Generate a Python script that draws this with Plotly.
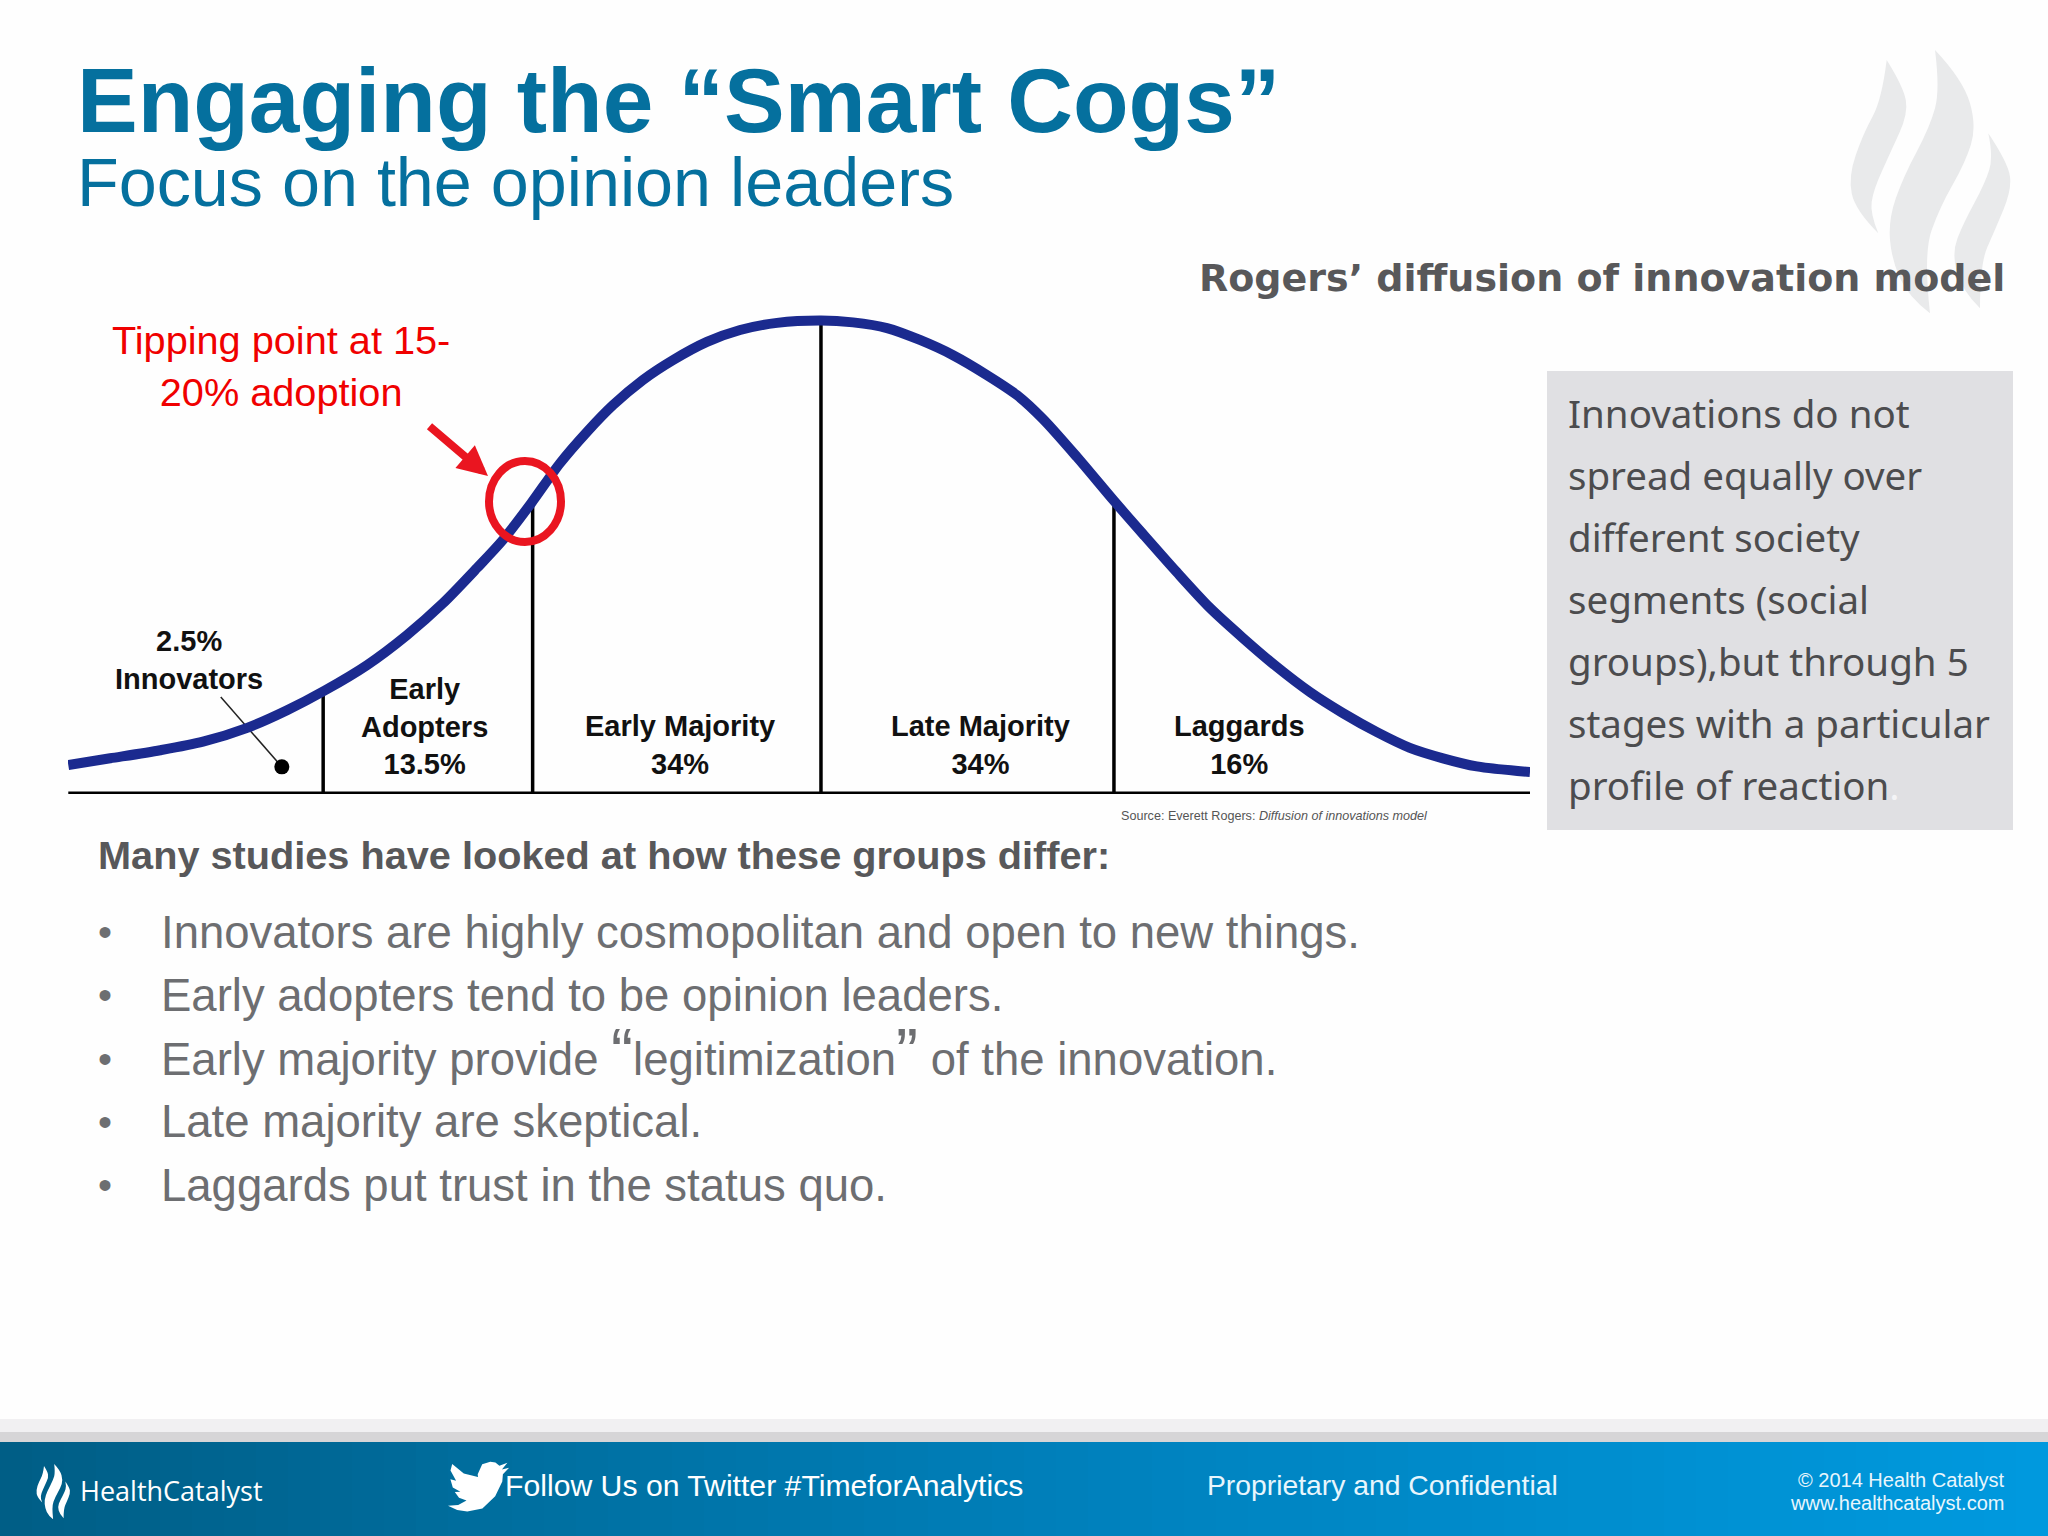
import plotly.graph_objects as go

# bell curve: x in std deviations, y in % of peak height
curve_x = [-2.594, -2.45, -2.278, -2.131, -1.979, -1.842, -1.711, -1.567, -1.43, -1.306, -1.189,
           -1.10, -1.003, -0.904, -0.811, -0.722, -0.619, -0.515, -0.399, -0.285, -0.158, -0.007,
           0.103, 0.22, 0.333, 0.447, 0.564, 0.667, 0.756, 0.873, 1.0, 1.10, 1.216, 1.33, 1.443,
           1.56, 1.674, 1.787, 1.904, 2.017, 2.131, 2.247, 2.43]
curve_y = [6.1, 7.5, 9.2, 11.0, 13.9, 17.6, 21.8, 27.1, 33.4, 40.1, 47.5,
           53.4, 61.1, 69.5, 76.1, 81.7, 87.0, 91.2, 95.0, 97.5, 99.0, 99.5,
           99.1, 97.9, 95.4, 92.2, 88.0, 83.8, 78.8, 70.8, 61.6, 54.6, 46.6, 39.1, 32.8,
           26.7, 21.4, 17.0, 13.0, 9.7, 7.5, 5.8, 4.6]

divider_x = [-1.718, -0.998, -0.007, 1.0]
divider_top = [21.8, 61.1, 99.5, 61.6]

segment_labels = ['2.5%<br>Innovators', 'Early<br>Adopters<br>13.5%', 'Early Majority<br>34%',
                  'Late Majority<br>34%', 'Laggards<br>16%']
segment_x = [-2.18, -1.37, -0.49, 0.54, 1.43]
segment_y = [28.2, 14.1, 10.2, 10.2, 10.2]

innovator_leader_x = [-2.07, -1.86]
innovator_leader_y = [20.4, 5.7]

bullets = ['Innovators are highly cosmopolitan and open to new things.',
           'Early adopters tend to be opinion leaders.',
           'Early majority provide <span style="font-size:66px">“</span>legitimization'
           '<span style="font-size:66px">”</span> of the innovation.',
           'Late majority are skeptical.',
           'Laggards put trust in the status quo.']
box_lines = ['Innovations do not', 'spread equally over', 'different society', 'segments (social',
             'groups),but through 5', 'stages with a particular',
             'profile of reaction<span style="color:#f4f4f6">.</span>']

# logo outlines, right side then left side of each flame, in watermark pixels
flames = [
    ([(320, 120), (370, 200), (385, 280), (330, 400), (280, 510), (270, 580), (295, 640)],
     [(295, 640), (225, 570), (205, 470), (250, 340), (305, 240), (320, 120)]),
    ([(465, 90), (550, 180), (590, 320), (555, 430), (480, 560), (430, 700), (450, 880)],
     [(450, 880), (385, 830), (335, 720), (325, 600), (370, 470), (450, 320), (480, 210), (465, 90)]),
    ([(625, 340), (685, 430), (695, 510), (645, 630), (600, 730), (600, 865)],
     [(600, 865), (545, 810), (515, 700), (550, 610), (615, 490), (640, 410), (625, 340)]),
]
bird = [(23.95, 4.57), (21.13, 5.34), (23.29, 2.62), (20.17, 3.81), (18.6, 2.5), (16.58, 2.25),
        (13.4, 3.2), (11.66, 7.17), (11.78, 8.29), (6.2, 6.9), (1.64, 3.16), (0.97, 5.64),
        (3.16, 9.73), (0.93, 9.11), (1.9, 12.4), (4.88, 14.0), (2.67, 14.08), (4.3, 16.4), (7.27, 17.5),
        (4.0, 19.2), (0, 19.54), (3.6, 21.2), (7.56, 21.75), (13.5, 20.6), (18.5, 15.8),
        (21.3, 10.0), (21.54, 7.13)]

SLIDE_W, SLIDE_H = 2048, 1536
BLUE = '#05709e'
GREY = '#58585a'
RED = '#ea1520'


def side_path(pts, fx, fy, first=False):
    # quadratic segments through the midpoints, ends stay sharp
    out = ''
    if first:
        out = 'M%.1f,%.1f ' % (fx(pts[0][0]), fy(pts[0][1]))
    for i in range(1, len(pts) - 1):
        if i < len(pts) - 2:
            ex = (pts[i][0] + pts[i + 1][0]) / 2
            ey = (pts[i][1] + pts[i + 1][1]) / 2
        else:
            ex, ey = pts[i + 1]
        out += 'Q%.1f,%.1f %.1f,%.1f ' % (fx(pts[i][0]), fy(pts[i][1]), fx(ex), fy(ey))
    return out


def flame_shapes(ox, oy, scale, color, layer):
    res = []
    fx = lambda v: ox + v * scale
    fy = lambda v: oy + v * scale
    for right, left in flames:
        path = side_path(right, fx, fy, first=True) + side_path(left, fx, fy) + 'Z'
        res.append(dict(type='path', path=path, fillcolor=color, line_width=0, layer=layer,
                        xref='x2', yref='y2'))
    return res


def page_text(text, x, y, size, color, anchor='left', family='Liberation Sans', **kw):
    return dict(text=text, x=x, y=y, xref='x2', yref='y2', showarrow=False, xanchor=anchor,
                yanchor='middle', align=anchor,
                font=dict(size=size, color=color, family=family), **kw)


def mix(c1, c2, t):
    return 'rgb(%d,%d,%d)' % tuple(round(a + (b - a) * t) for a, b in zip(c1, c2))


shapes = []
shapes += flame_shapes(1780, 20, 1 / 3, '#e9eaeb', 'below')

# footer: grey strips and the blue gradient
shapes.append(dict(type='rect', x0=0, x1=SLIDE_W, y0=1419, y1=1432, fillcolor='#f1f0f2',
                   line_width=0, layer='below', xref='x2', yref='y2'))
shapes.append(dict(type='rect', x0=0, x1=SLIDE_W, y0=1432, y1=1442, fillcolor='#d6d5d7',
                   line_width=0, layer='below', xref='x2', yref='y2'))
steps = 64
for i in range(steps):
    x0 = SLIDE_W * i / steps
    x1 = SLIDE_W * (i + 1) / steps + 2
    t = i / (steps - 1)
    if t < 0.55:
        col = mix((0, 94, 134), (0, 130, 190), t / 0.55)
    else:
        col = mix((0, 130, 190), (0, 153, 222), (t - 0.55) / 0.45)
    shapes.append(dict(type='rect', x0=x0, x1=x1, y0=1442, y1=SLIDE_H, fillcolor=col,
                       line_width=0, layer='below', xref='x2', yref='y2'))

shapes += flame_shapes(21.6, 1457.7, 0.07, 'white', 'above')

# twitter bird
bx = lambda v: 448 + v * 2.55
by = lambda v: 1456 + v * 2.55
bird_path = 'M%.1f,%.1f ' % (bx(bird[0][0]), by(bird[0][1]))
for px_, py_ in bird[1:]:
    bird_path += 'L%.1f,%.1f ' % (bx(px_), by(py_))
shapes.append(dict(type='path', path=bird_path + 'Z', fillcolor='white', line_width=0,
                   xref='x2', yref='y2'))

# grey note box
shapes.append(dict(type='rect', x0=1547, x1=2013, y0=371, y1=830, fillcolor='#e0e0e3',
                   line_width=0, layer='below', xref='x2', yref='y2'))

# tipping point ring
shapes.append(dict(type='circle', x0=489, x1=561, y0=461, y1=542, fillcolor='rgba(0,0,0,0)',
                   line=dict(color=RED, width=8), xref='x2', yref='y2'))

annotations = [
    page_text('<b>Engaging the “Smart Cogs”</b>', 75, 100, 91, BLUE),
    page_text('Focus on the opinion leaders', 75, 182, 68.3, BLUE),
    page_text('<b>Rogers’ diffusion of innovation model</b>', 2007, 278, 38, GREY, anchor='right',
              family='DejaVu Sans'),
    page_text('Tipping point at 15-<br>20% adoption', 281, 366, 39.7, '#f00000', anchor='center'),
    page_text('Source: Everett Rogers: <i>Diffusion of innovations model</i>', 1119, 816, 12.6, '#555555'),
    page_text('<b>Many studies have looked at how these groups differ:</b>', 96, 855, 39.7, GREY),
    page_text('HealthCatalyst', 78, 1490, 27, 'white', family='Open Sans'),
    page_text('Follow Us on Twitter #TimeforAnalytics', 503, 1485, 30.2, 'white'),
    page_text('Proprietary and Confidential', 1205, 1485, 28.3, '#e8f6fd'),
    page_text('© 2014 Health Catalyst', 2006, 1480, 20, '#e8f6fd', anchor='right'),
    page_text('www.healthcatalyst.com', 2006, 1503, 20, '#e8f6fd', anchor='right'),
    dict(x=488, y=476, ax=-60, ay=-51, xref='x2', yref='y2', text='', showarrow=True, arrowhead=2,
         arrowsize=0.75, arrowwidth=8, arrowcolor=RED),
]
for i, line in enumerate(bullets):
    y = 932 + i * 63.3
    annotations.append(page_text('•', 96, y, 40, '#6d6e71'))
    # the big quotes push the third line down a little
    text_y = y - 7 if i == 2 else y
    annotations.append(page_text(line, 159, text_y, 45.5, '#6d6e71'))
for i, line in enumerate(box_lines):
    annotations.append(page_text(line, 1566, 413 + i * 62, 38.5, '#4c4c4e', family='Noto Sans'))
for label, lx, ly in zip(segment_labels, segment_x, segment_y):
    annotations.append(dict(text='<b>' + label + '</b>', x=lx, y=ly, xref='x', yref='y',
                            showarrow=False, align='center',
                            font=dict(size=29, color='#111111', family='Liberation Sans')))

fig = go.Figure()
fig.add_trace(go.Scatter(x=[curve_x[0], curve_x[-1]], y=[0, 0], mode='lines', cliponaxis=False,
                         line=dict(color='black', width=5), showlegend=False))
for dx, dtop in zip(divider_x, divider_top):
    fig.add_trace(go.Scatter(x=[dx, dx], y=[0, dtop], mode='lines', cliponaxis=False,
                             line=dict(color='black', width=3.5), showlegend=False))
fig.add_trace(go.Scatter(x=innovator_leader_x, y=innovator_leader_y, mode='lines', cliponaxis=False,
                         line=dict(color='#222222', width=1.5), showlegend=False))
fig.add_trace(go.Scatter(x=innovator_leader_x[1:], y=innovator_leader_y[1:], mode='markers',
                         cliponaxis=False, marker=dict(color='black', size=15), showlegend=False))
fig.add_trace(go.Scatter(x=curve_x, y=curve_y, mode='lines', cliponaxis=False,
                         line=dict(color='#1b2a8f', width=10, shape='spline', smoothing=0.8),
                         showlegend=False))

fig.update_layout(
    width=SLIDE_W, height=SLIDE_H,
    margin=dict(l=0, r=0, t=0, b=0),
    paper_bgcolor='#fefefe', plot_bgcolor='rgba(0,0,0,0)',
    showlegend=False,
    shapes=shapes,
    annotations=annotations,
    xaxis=dict(domain=[68 / SLIDE_W, 1530 / SLIDE_W], range=[-2.595, 2.43], visible=False),
    yaxis=dict(domain=[(SLIDE_H - 794) / SLIDE_H, (SLIDE_H - 300) / SLIDE_H], range=[0, 103.8],
               visible=False),
    # second pair covers the whole slide, one unit is one pixel
    xaxis2=dict(domain=[0, 1], range=[0, SLIDE_W], visible=False, anchor='y2'),
    yaxis2=dict(domain=[0, 1], range=[SLIDE_H, 0], visible=False, anchor='x2'),
)
# invisible trace so the full page axes exist
fig.add_trace(go.Scatter(x=[0, SLIDE_W], y=[0, SLIDE_H], xaxis='x2', yaxis='y2', mode='markers',
                         marker=dict(opacity=0), showlegend=False, hoverinfo='skip'))

fig.write_html('out.html', config=dict(displayModeBar=False),
               post_script="document.body.style.margin='0';")
